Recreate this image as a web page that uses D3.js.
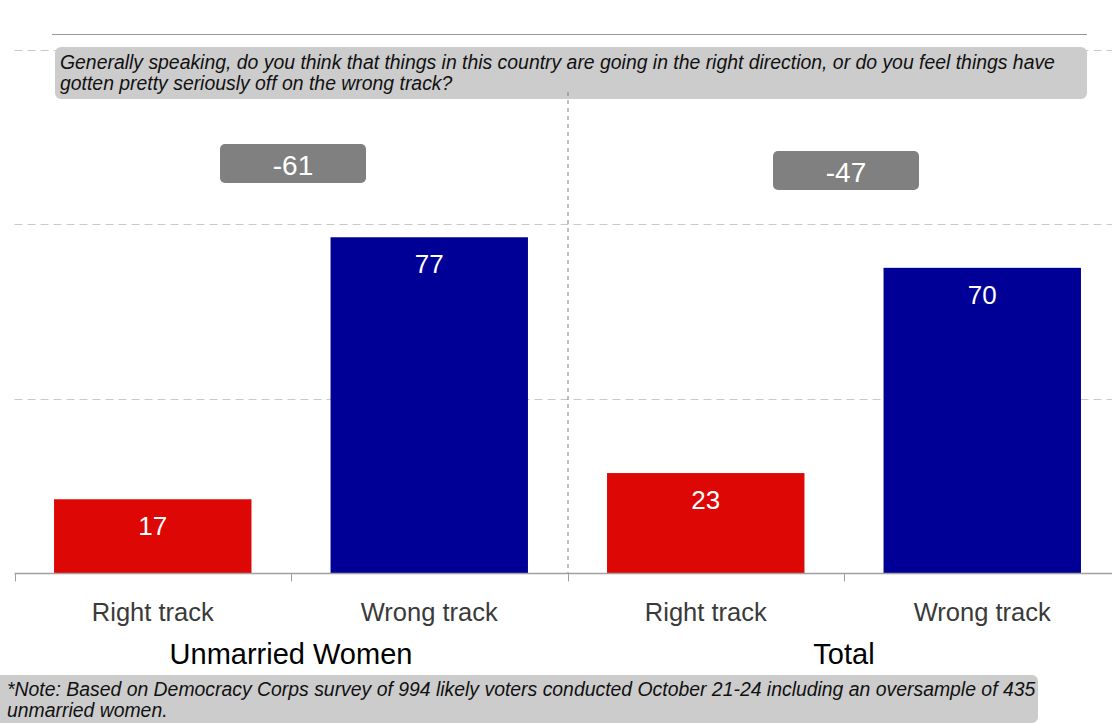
<!DOCTYPE html>
<html>
<head>
<meta charset="utf-8">
<script src="https://cdn.jsdelivr.net/npm/d3@7"></script>
<style>
  html, body { margin: 0; padding: 0; background: #ffffff; }
  svg { display: block; font-family: "Liberation Sans", Arial, sans-serif; }
</style>
</head>
<body>
<svg id="chart" width="1112" height="724"></svg>
<script>
// Survey groups and response categories
const groups = ["Unmarried Women", "Total"];
const responses = ["Right track", "Wrong track"];
// Percent answering each response, per group
const rightTrack = [17, 23];
const wrongTrack = [77, 70];
// Net score (right minus wrong) shown above each group
const netScores = [-61, -47];
// Horizontal reference lines
const gridValues = [40, 80, 120];

const question = [
  "Generally speaking, do you think that things in this country are going in the right direction, or do you feel things have",
  "gotten pretty seriously off on the wrong track?"
];
const note = [
  "*Note: Based on Democracy Corps survey of 994 likely voters conducted October 21-24 including an oversample of 435",
  "unmarried women."
];

const rows = groups.map((g, i) => ({
  group: g,
  values: [
    { response: responses[0], value: rightTrack[i] },
    { response: responses[1], value: wrongTrack[i] }
  ],
  net: netScores[i]
}));

const svg = d3.select("#chart");
const left = 14.5, right = 1120.5, baseY = 573.5, topY = 49.5;

const x0 = d3.scaleBand().domain(groups).range([left, right]).padding(0);
const x1 = d3.scaleBand().domain(responses).range([0, x0.bandwidth()])
  .paddingInner(0.286).paddingOuter(0.143);
const y = d3.scaleLinear().domain([0, 120]).range([baseY, topY]);

// Dashed gridlines
svg.append("g").selectAll("line").data(gridValues).join("line")
  .attr("x1", left).attr("x2", 1112)
  .attr("y1", d => Math.round(y(d)) + 0.5).attr("y2", d => Math.round(y(d)) + 0.5)
  .attr("stroke", "#c8c8c8").attr("stroke-width", 1)
  .attr("stroke-dasharray", "8,5");

// Question box
svg.append("rect")
  .attr("x", 55).attr("y", 47).attr("width", 1032).attr("height", 52)
  .attr("rx", 6).attr("fill", "#cccccc");
svg.append("text")
  .attr("x", 60).attr("y", 69)
  .attr("font-size", 19.4).attr("font-style", "italic").attr("fill", "#111")
  .selectAll("tspan").data(question).join("tspan")
  .attr("x", 60).attr("dy", (d, i) => i ? 21 : 0).text(d => d);

// Line under the heading
svg.append("line")
  .attr("x1", 52).attr("x2", 1087).attr("y1", 34.5).attr("y2", 34.5)
  .attr("stroke", "#999").attr("stroke-width", 1);

// Divider between groups
svg.append("line")
  .attr("x1", x0("Total") + 0.5).attr("x2", x0("Total") + 0.5)
  .attr("y1", 92).attr("y2", baseY)
  .attr("stroke", "#808080").attr("stroke-width", 1)
  .attr("stroke-dasharray", "4,4");

const colors = { "Right track": "#dd0806", "Wrong track": "#000096" };

const g = svg.append("g").selectAll("g").data(rows).join("g")
  .attr("transform", d => `translate(${x0(d.group)},0)`);

g.selectAll("rect.bar").data(d => d.values).join("rect")
  .attr("class", "bar")
  .attr("x", d => x1(d.response))
  .attr("y", d => y(d.value))
  .attr("width", x1.bandwidth())
  .attr("height", d => baseY - y(d.value))
  .attr("fill", d => colors[d.response]);

g.selectAll("text.val").data(d => d.values).join("text")
  .attr("class", "val")
  .attr("x", d => x1(d.response) + x1.bandwidth() / 2)
  .attr("y", d => y(d.value) + 36)
  .attr("text-anchor", "middle").attr("font-size", 26).attr("fill", "#fff")
  .text(d => d.value);

g.selectAll("text.cat").data(d => d.values).join("text")
  .attr("class", "cat")
  .attr("x", d => x1(d.response) + x1.bandwidth() / 2)
  .attr("y", 621)
  .attr("text-anchor", "middle").attr("font-size", 25.5).attr("fill", "#3a3a3a")
  .text(d => d.response);

g.append("text")
  .attr("x", x0.bandwidth() / 2).attr("y", 664)
  .attr("text-anchor", "middle").attr("font-size", 29).attr("fill", "#000")
  .text(d => d.group);

// Net score badges
const badgeTop = { "Unmarried Women": 144, "Total": 151 };
const badge = g.append("g")
  .attr("transform", d => `translate(${x0.bandwidth() / 2 + 2},${badgeTop[d.group]})`);
badge.append("rect")
  .attr("x", -73).attr("y", 0).attr("width", 146).attr("height", 39)
  .attr("rx", 5).attr("fill", "#808080");
badge.append("text")
  .attr("x", 0).attr("y", 31)
  .attr("text-anchor", "middle").attr("font-size", 28).attr("fill", "#fff")
  .text(d => d.net);

// Category axis along the baseline
const boundaries = [];
groups.forEach(gr => responses.forEach(r => boundaries.push(x0(gr) + x1.step() * responses.indexOf(r))));
boundaries.push(right);
svg.append("line")
  .attr("x1", left).attr("x2", 1112).attr("y1", baseY).attr("y2", baseY)
  .attr("stroke", "#a0a0a0").attr("stroke-width", 1.5);
svg.append("g").selectAll("line").data(boundaries).join("line")
  .attr("x1", d => Math.round(d) + 0.5).attr("x2", d => Math.round(d) + 0.5)
  .attr("y1", baseY).attr("y2", baseY + 8)
  .attr("stroke", "#a0a0a0").attr("stroke-width", 1);

// Footnote box
svg.append("rect")
  .attr("x", -6).attr("y", 675).attr("width", 1044).attr("height", 48)
  .attr("rx", 6).attr("fill", "#cccccc");
svg.append("text")
  .attr("font-size", 19.4).attr("font-style", "italic").attr("fill", "#111")
  .selectAll("tspan").data(note).join("tspan")
  .attr("x", 7).attr("y", (d, i) => 696 + i * 21).text(d => d);
</script>
</body>
</html>
